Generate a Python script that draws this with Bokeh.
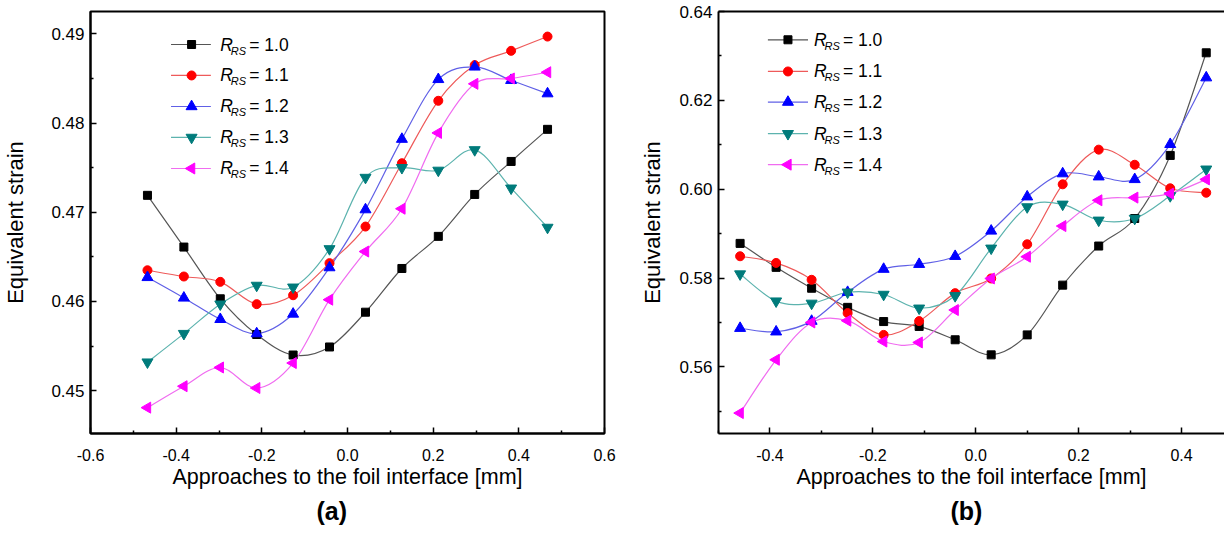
import numpy as np
from bokeh.plotting import figure
from bokeh.models import Range1d, FixedTicker, NumeralTickFormatter, LinearAxis, Title
from bokeh.layouts import row
from bokeh.embed import file_html
from bokeh.resources import INLINE
from bokeh.core.properties import value

FONT = "Liberation Sans"

RS_LABELS = ["1.0", "1.1", "1.2", "1.3", "1.4"]

# ---------------- panel (a) data ----------------
XA = [-0.467, -0.382, -0.297, -0.212, -0.127, -0.042, 0.042, 0.127, 0.212, 0.297, 0.382, 0.467]
A_10 = [0.4719, 0.4661, 0.4603, 0.4563, 0.4540, 0.4549, 0.4588, 0.4637, 0.4673, 0.4720, 0.4757, 0.4793]
A_11 = [0.4635, 0.4628, 0.4622, 0.4597, 0.4607, 0.4643, 0.4684, 0.4755, 0.4825, 0.4865, 0.4881, 0.4897]
A_12 = [0.4627, 0.4604, 0.4580, 0.4564, 0.4586, 0.4638, 0.4703, 0.4782, 0.4849, 0.4863, 0.4848, 0.4833]
A_13 = [0.4532, 0.4564, 0.4597, 0.4618, 0.4616, 0.4659, 0.4739, 0.4750, 0.4747, 0.4770, 0.4727, 0.4683]
A_14 = [0.4481, 0.4505, 0.4526, 0.4503, 0.4531, 0.4602, 0.4656, 0.4704, 0.4789, 0.4844, 0.4850, 0.4857]

# ---------------- panel (b) data ----------------
XB = [-0.458, -0.388, -0.319, -0.249, -0.179, -0.110, -0.040, 0.030, 0.100, 0.169, 0.239, 0.309, 0.378, 0.448]
B_10 = [0.5878, 0.5824, 0.5777, 0.5734, 0.5702, 0.5691, 0.5661, 0.5627, 0.5672, 0.5784, 0.5872, 0.5934, 0.6076, 0.6307]
B_11 = [0.5849, 0.5834, 0.5796, 0.5721, 0.5672, 0.5703, 0.5766, 0.5799, 0.5876, 0.6011, 0.6089, 0.6055, 0.6002, 0.5992]
B_12 = [0.5687, 0.5679, 0.5703, 0.5768, 0.5820, 0.5831, 0.5849, 0.5906, 0.5983, 0.6035, 0.6028, 0.6022, 0.6101, 0.6251]
B_13 = [0.5809, 0.5748, 0.5743, 0.5768, 0.5763, 0.5732, 0.5760, 0.5867, 0.5960, 0.5966, 0.5930, 0.5934, 0.5985, 0.6045]
B_14 = [0.5496, 0.5616, 0.5700, 0.5704, 0.5657, 0.5655, 0.5728, 0.5799, 0.5848, 0.5917, 0.5975, 0.5981, 0.5990, 0.6022]

# ---------------- ticks ----------------
XA_TICKS = [-0.6, -0.4, -0.2, 0.0, 0.2, 0.4, 0.6]
XA_MINOR = [-0.5, -0.3, -0.1, 0.1, 0.3, 0.5]
YA_TICKS = [0.45, 0.46, 0.47, 0.48, 0.49]
YA_MINOR = [0.455, 0.465, 0.475, 0.485]
XB_TICKS = [-0.4, -0.2, 0.0, 0.2, 0.4]
XB_MINOR = [-0.5, -0.3, -0.1, 0.1, 0.3]
YB_TICKS = [0.56, 0.58, 0.60, 0.62, 0.64]
YB_MINOR = [0.55, 0.57, 0.59, 0.61, 0.63]

X_LABEL = "Approaches to the foil interface [mm]"
Y_LABEL = "Equivalent strain"

# ---------------- styles ----------------
MARKER_COLORS = ["#000000", "#ff0000", "#0000ff", "#007b7b", "#ff00ff"]
LINE_COLORS = ["#555555", "#ee5a5a", "#6060e6", "#5cb3ae", "#f06cf0"]
MARKERS = ["square", "circle", "triangle", "inverted_triangle", "triangle"]
ANGLES = [0.0, 0.0, 0.0, 0.0, np.pi / 2]
SIZES = [8, 9, 11, 11, 11]


def bezier_parts(x, y):
    x = np.asarray(x, dtype=float)
    y = np.asarray(y, dtype=float)
    n = len(x)
    xp = np.concatenate([[x[0]], x, [x[-1]]])
    yp = np.concatenate([[y[0]], y, [y[-1]]])
    cx0 = x[:-1] + (x[1:] - xp[0:n - 1]) / 6.0
    cy0 = y[:-1] + (y[1:] - yp[0:n - 1]) / 6.0
    cx1 = x[1:] - (xp[3:n + 2] - x[:-1]) / 6.0
    cy1 = y[1:] - (yp[3:n + 2] - y[:-1]) / 6.0
    return dict(x0=x[:-1], y0=y[:-1], x1=x[1:], y1=y[1:], cx0=cx0, cy0=cy0, cx1=cx1, cy1=cy1)


def style_axis(ax, tick_size, label_size, standoff, label_standoff):
    ax.axis_line_width = 2
    ax.axis_line_color = "black"
    ax.major_tick_in = 6
    ax.major_tick_out = 0
    ax.minor_tick_in = 3
    ax.minor_tick_out = 0
    ax.major_tick_line_width = 1.5
    ax.minor_tick_line_width = 1.5
    ax.major_tick_line_color = "black"
    ax.minor_tick_line_color = "black"
    ax.major_label_text_font = FONT
    ax.major_label_text_font_size = tick_size
    ax.major_label_text_color = "black"
    ax.major_label_standoff = standoff
    ax.axis_label_text_font = FONT
    ax.axis_label_text_font_size = label_size
    ax.axis_label_text_font_style = "normal"
    ax.axis_label_text_color = "black"
    ax.axis_label_standoff = label_standoff


def make_panel(width, xr, yr, xt, xm, yt, ym, xs, series, leg_x, leg_y, tag, tag_offset,
               border_left, border_right, ylab_standoff, full_box):
    p = figure(width=width, height=530, x_range=Range1d(*xr), y_range=Range1d(*yr),
               output_backend="svg", toolbar_location=None, title=None,
               min_border_left=border_left, min_border_right=border_right,
               min_border_top=11, min_border_bottom=97)
    p.xgrid.visible = False
    p.ygrid.visible = False
    p.background_fill_color = "white"
    p.border_fill_color = "white"

    xax = p.below[0]
    yax = p.left[0]
    xax.ticker = FixedTicker(ticks=xt, minor_ticks=xm)
    yax.ticker = FixedTicker(ticks=yt, minor_ticks=ym)
    xax.formatter = NumeralTickFormatter(format="0.0")
    yax.formatter = NumeralTickFormatter(format="0.00")
    xax.axis_label = X_LABEL
    yax.axis_label = Y_LABEL
    style_axis(xax, "16px", "21.5px", 15, 1)
    style_axis(yax, "17px", "22px", 6, ylab_standoff)

    if full_box:
        p.outline_line_color = "black"
        p.outline_line_width = 2
    else:
        p.outline_line_color = None
        top = LinearAxis(ticker=FixedTicker(ticks=[]))
        top.axis_line_width = 2
        top.axis_line_color = "black"
        top.major_tick_in = 0
        top.major_tick_out = 0
        top.minor_tick_in = 0
        top.minor_tick_out = 0
        top.major_label_text_font_size = "0px"
        top.major_label_standoff = 0
        p.add_layout(top, "above")

    for i, ys in enumerate(series):
        p.bezier(line_color=LINE_COLORS[i], line_width=1.2, **bezier_parts(xs, ys))
    for i, ys in enumerate(series):
        p.scatter(xs, ys, marker=MARKERS[i], size=SIZES[i], angle=ANGLES[i],
                  fill_color=MARKER_COLORS[i], line_color=MARKER_COLORS[i])

    # legend
    lx0, lxm, lx1, tx = leg_x
    for i, lab in enumerate(RS_LABELS):
        yy = leg_y[i]
        p.line([lx0, lx1], [yy, yy], line_color=LINE_COLORS[i], line_width=1.2)
        p.scatter([lxm], [yy], marker=MARKERS[i], size=SIZES[i], angle=ANGLES[i],
                  fill_color=MARKER_COLORS[i], line_color=MARKER_COLORS[i])
        p.text([tx], [yy], text=["R"], text_font=value(FONT), text_font_size="17.5px",
               text_font_style="italic", text_baseline="middle", text_align="left",
               text_color="black")
        p.text([tx], [yy], text=["RS"], text_font=value(FONT), text_font_size="11px",
               text_font_style="italic", text_baseline="middle", text_align="left",
               text_color="black", x_offset=10.5, y_offset=6)
        p.text([tx], [yy], text=["= " + lab], text_font=value(FONT), text_font_size="17.5px",
               text_baseline="middle", text_align="left", text_color="black", x_offset=29)

    t = Title(text=tag, align="left", offset=tag_offset, text_font=FONT,
              text_font_size="25px", text_font_style="bold", text_color="black", standoff=7)
    p.add_layout(t, "below")
    return p


pa = make_panel(636, (-0.6, 0.6), (0.4452, 0.49251), XA_TICKS, XA_MINOR, YA_TICKS, YA_MINOR,
                XA, [A_10, A_11, A_12, A_13, A_14],
                (-0.412, -0.364, -0.319, -0.297),
                [0.48881, 0.48534, 0.48186, 0.47839, 0.47491], "(a)", 226,
                89, 32, 20, True)

pb = make_panel(588, (-0.5, 0.4835), (0.545, 0.64), XB_TICKS, XB_MINOR, YB_TICKS, YB_MINOR,
                XB, [B_10, B_11, B_12, B_13, B_14],
                (-0.404, -0.365, -0.326, -0.3145),
                [0.63363, 0.62650, 0.61960, 0.61249, 0.60552], "(b)", 232,
                82, 0, 11, False)

layout = row(pa, pb)
open("out.html", "w").write(file_html(layout, INLINE))
